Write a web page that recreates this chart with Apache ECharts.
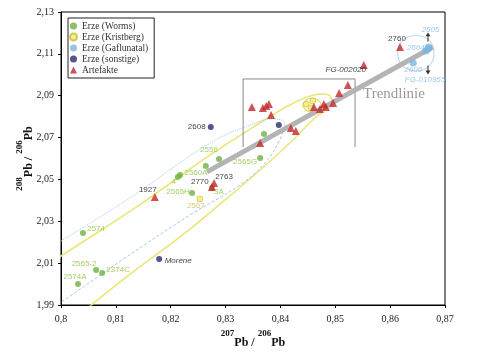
<!DOCTYPE html>
<html><head><meta charset="utf-8">
<script src="https://cdn.jsdelivr.net/npm/echarts@6/dist/echarts.min.js"></script>
<style>html,body{margin:0;padding:0;background:#fff}#c{width:486px;height:360px}</style>
</head><body><div id="c"></div>
<script>
// ---- axis ticks ----
const xTicks = [0.80, 0.81, 0.82, 0.83, 0.84, 0.85, 0.86, 0.87];
const yTicks = [1.99, 2.01, 2.03, 2.05, 2.07, 2.09, 2.11, 2.13];

// ---- categories ----
const seriesNames = ['Erze (Worms)', 'Erze (Kristberg)', 'Erze (Gaflunatal)', 'Erze (sonstige)', 'Artefakte'];

// ---- Erze (Worms) ----
const wormsNames = ['2574A', '2565-2', '2374C', '2574', '2565H', '4', '2560A', '', '2556', '2565G', '', '3A'];
const wormsX = [0.8031, 0.8064, 0.8075, 0.8040, 0.8239, 0.8213, 0.8217, 0.8264, 0.8288, 0.8363, 0.8370, 0.8275];
const wormsY = [2.0000, 2.0067, 2.0053, 2.0244, 2.0435, 2.0512, 2.0521, 2.0564, 2.0598, 2.0602, 2.0717, 2.0459];

// ---- Erze (Kristberg) ----
const kristNames = ['2567', '', '', ''];
const kristX = [0.8253, 0.8447, 0.8459, 0.8456];
const kristY = [2.0407, 2.0860, 2.0875, 2.0841];

// ---- Erze (Gaflunatal) ----
const gafNames = ['2605', '2604', 'FG-010955', '2606'];
const gafX = [0.8670, 0.8665, 0.8669, 0.8642];
const gafY = [2.1133, 2.1114, 2.1123, 2.1056];

// ---- Erze (sonstige) ----
const sonstNames = ['2608', 'Morene', ''];
const sonstX = [0.8273, 0.8179, 0.8397];
const sonstY = [2.0751, 2.0120, 2.0760];

// ---- Artefakte ----
const artNames = ['1927', '2770', '2763', '', '', '', '', '', '', '', '', '', '', '', '', '', '', '', 'FG-002020', '2760'];
const artX = [0.8171, 0.8275, 0.8279, 0.8363, 0.8348, 0.8368, 0.8374, 0.8379, 0.8383, 0.8419, 0.8428, 0.8461, 0.8472, 0.8479, 0.8483, 0.8496, 0.8507, 0.8523, 0.8552, 0.8618];
const artY = [2.0416, 2.0464, 2.0483, 2.0674, 2.0846, 2.0841, 2.0851, 2.0860, 2.0808, 2.0746, 2.0731, 2.0846, 2.0837, 2.0860, 2.0846, 2.0865, 2.0913, 2.0951, 2.1047, 2.1133];

// ---- trend line ----
const trendX = [0.8266, 0.8678];
const trendY = [2.0536, 2.1133];

// ---- zoom bracket (open at bottom) ----
const boxX = [0.8332, 0.8332, 0.8536, 0.8536];
const boxY = [2.0655, 2.0980, 2.0980, 2.0655];

// ---- yellow elongated ellipse ----
const yelX = [0.7925, 0.8000, 0.8148, 0.8272, 0.8368, 0.8417, 0.8454, 0.8478, 0.8492, 0.8494, 0.8479, 0.8459, 0.8417, 0.8363, 0.8299, 0.8217, 0.8126, 0.8053, 0.7989];
const yelY = [2.0005, 2.0134, 2.0387, 2.0617, 2.0779, 2.0856, 2.0899, 2.0908, 2.0894, 2.0865, 2.0827, 2.0784, 2.0674, 2.0545, 2.0402, 2.0225, 2.0048, 1.9895, 1.9757];

// ---- small yellow ellipse (Kristberg) ----
const yelSmallX = [0.8458, 0.8468, 0.8474, 0.8468, 0.8458, 0.8447, 0.8441, 0.8447, 0.8458];
const yelSmallY = [2.0889, 2.0880, 2.0856, 2.0831, 2.0822, 2.0831, 2.0856, 2.0880, 2.0889];

// ---- light blue ellipse: upper (dotted) and lower (dashed) halves ----
const bluUpX = [0.7925, 0.8000, 0.8120, 0.8272, 0.8345, 0.8385, 0.8405, 0.8408];
const bluUpY = [2.0091, 2.0206, 2.0402, 2.0674, 2.0760, 2.0789, 2.0779, 2.0751];
const bluLoX = [0.8408, 0.8396, 0.8372, 0.8326, 0.8235, 0.8117, 0.8000, 0.7925];
const bluLoY = [2.0751, 2.0674, 2.0579, 2.0473, 2.0330, 2.0125, 1.9914, 1.9795];

// ---- light blue circle (Gaflunatal) ----
const circX = [0.8647, 0.8671, 0.8680, 0.8671, 0.8647, 0.8623, 0.8614, 0.8623, 0.8647];
const circY = [2.1190, 2.1166, 2.1104, 2.1042, 2.1018, 2.1042, 2.1104, 2.1166, 2.1190];

// ---- arrows ----
const arrowUpX = [0.8669], arrowUpY = [2.1181];
const arrowDownX = [0.8669], arrowDownY = [2.1023];

// ---- label placement (pixel offsets of label centre from the mark) ----
const labelOffset = {
  '2574': [13, -4], '2565-2': [-12, -6], '2374C': [16, -3], '2574A': [-3, -7],
  '2565H': [-14, -1], '4': [-4, 5], '2560A': [16, -2], '2556': [-10, -9],
  '2565G': [-15, 4], '3A': [7, 4], '2567': [-4, 7], '1927': [-7, -7],
  '2770': [-12, -5], '2763': [10, -6], '2608': [-14, 0], 'Morene': [19, 2],
  'FG-002020': [-18, 5], '2760': [-3, -8], '2605': [2, -17], '2604': [-10, -3],
  '2606': [0, 7], 'FG-010955': [-3, 31]
};
const italicLabels = ['Morene', 'FG-002020'];

const pair = (xs, ys) => xs.map((x, i) => [x, ys[i]]);
function items(names, xs, ys) {
  return xs.map((x, i) => {
    const n = names[i];
    const it = { name: n, value: [x, ys[i]] };
    if (n && labelOffset[n]) {
      it.label = { show: true, offset: labelOffset[n] };
      if (italicLabels.includes(n)) it.label.fontStyle = 'italic';
    } else {
      it.label = { show: false };
    }
    return it;
  });
}
const fmt = v => String(+(+v).toFixed(2)).replace('.', ',');
const labelBase = (color, italic) => ({
  show: true, position: 'inside', formatter: p => p.name,
  fontFamily: 'Liberation Sans', fontSize: 8, color: color,
  fontStyle: italic ? 'italic' : 'normal', align: 'center', verticalAlign: 'middle'
});
const lineS = (xs, ys, color, width, type, z) => ({
  type: 'line', data: pair(xs, ys), symbol: 'none', smooth: 0.4, silent: true,
  lineStyle: { color: color, width: width, type: type }, z: z, clip: true, animation: false
});
const serif = 'Liberation Serif';
const axisRich = {
  s: { fontSize: 9, fontWeight: 'bold', fontFamily: serif, color: '#111', lineHeight: 9, verticalAlign: 'top' },
  b: { fontSize: 12, fontWeight: 'bold', fontFamily: serif, color: '#111', lineHeight: 20, verticalAlign: 'bottom' }
};

const chart = echarts.init(document.getElementById('c'), null, { renderer: 'canvas' });
chart.setOption({
  animation: false,
  backgroundColor: '#fff',
  grid: { left: 61, top: 12, width: 384, height: 293, show: true, borderColor: '#000', borderWidth: 1, outerBoundsMode: 'none' },
  legend: {
    orient: 'vertical', left: 68, top: 18, padding: [3, 6, 3, 1], itemGap: 1,
    itemWidth: 7, itemHeight: 7, borderColor: '#222', borderWidth: 1,
    textStyle: { fontFamily: serif, fontSize: 9.5, color: '#333' },
    data: seriesNames
  },
  xAxis: {
    type: 'value', min: 0.80, max: 0.87,
    axisLine: { show: true, lineStyle: { color: '#000' } },
    axisTick: { show: true, length: 3, customValues: xTicks, lineStyle: { color: '#000' } },
    axisLabel: { customValues: xTicks, formatter: fmt, margin: 9, fontFamily: serif, fontSize: 10, color: '#222' },
    splitLine: { show: false },
    name: '{s|207}{b|Pb / }{s|206}{b|Pb}', nameLocation: 'middle', nameGap: 21,
    nameTextStyle: { rich: axisRich }
  },
  yAxis: {
    type: 'value', min: 1.99, max: 2.13,
    axisLine: { show: true, lineStyle: { color: '#000' } },
    axisTick: { show: true, length: 3, customValues: yTicks, lineStyle: { color: '#000' } },
    axisLabel: { customValues: yTicks, formatter: fmt, margin: 7, fontFamily: serif, fontSize: 10, color: '#222' },
    splitLine: { show: false },
    name: '{s|208}{b|Pb / }{s|206}{b|Pb}', nameLocation: 'middle', nameGap: 26, nameRotate: 90,
    nameMoveOverlap: false,
    nameTextStyle: { rich: axisRich }
  },
  graphic: [{
    type: 'text', left: 363, top: 87, z: 50,
    style: { text: 'Trendlinie', font: '15px "Liberation Serif"', fill: '#9a9a9a' }
  }],
  series: [
    lineS(yelX, yelY, '#ebe57a', 1.6, 'solid', 1),
    lineS(yelSmallX, yelSmallY, '#e6dc5a', 1.2, 'solid', 1),
    lineS(bluUpX, bluUpY, '#a6c9e6', 1, 'dotted', 1),
    lineS(bluLoX, bluLoY, '#a6c9e6', 1, [3, 2], 1),
    lineS(circX, circY, '#a6c9e6', 0.8, 'solid', 1),
    Object.assign(lineS(boxX, boxY, '#8a8a8a', 1, 'solid', 2), { smooth: false }),
    Object.assign(lineS(trendX, trendY, '#b4b4b4', 5, 'solid', 3), { smooth: false }),
    {
      name: seriesNames[0], type: 'scatter', symbol: 'circle', symbolSize: 6, z: 5,
      itemStyle: { color: '#6db33f' }, label: labelBase('#8cc43f', false),
      data: items(wormsNames, wormsX, wormsY)
    },
    {
      name: seriesNames[1], type: 'scatter', symbol: 'circle', symbolSize: 6, z: 5,
      itemStyle: { color: '#f2ea70', borderColor: '#c8b93c', borderWidth: 0.8 }, label: labelBase('#cbbf58', false),
      data: items(kristNames, kristX, kristY)
    },
    {
      name: seriesNames[2], type: 'scatter', symbol: 'circle', symbolSize: 7, z: 5,
      itemStyle: { color: '#7db5df' }, label: labelBase('#86bce6', true),
      data: items(gafNames, gafX, gafY)
    },
    {
      name: seriesNames[3], type: 'scatter', symbol: 'circle', symbolSize: 6, z: 5,
      itemStyle: { color: '#2b2b6e' }, label: labelBase('#111', false),
      data: items(sonstNames, sonstX, sonstY)
    },
    {
      name: seriesNames[4], type: 'scatter', symbol: 'triangle', symbolSize: 8, z: 6,
      itemStyle: { color: '#c4272b' }, label: labelBase('#111', false),
      data: items(artNames, artX, artY)
    },
    {
      type: 'scatter', silent: true, z: 7,
      symbol: 'path://M5,0 L10,6 L6,6 L6,14 L4,14 L4,6 L0,6 Z', symbolSize: [5, 9],
      itemStyle: { color: '#000' }, data: pair(arrowUpX, arrowUpY)
    },
    {
      type: 'scatter', silent: true, z: 7, symbolRotate: 180,
      symbol: 'path://M5,0 L10,6 L6,6 L6,14 L4,14 L4,6 L0,6 Z', symbolSize: [5, 9],
      itemStyle: { color: '#000' }, data: pair(arrowDownX, arrowDownY)
    }
  ]
});
</script></body></html>
